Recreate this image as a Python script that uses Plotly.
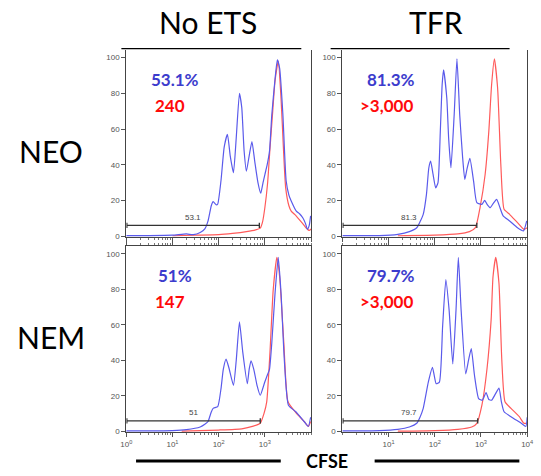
import plotly.graph_objects as go

# ---------------- data (x as log10 CFSE, y as % of max) ----------------
neo_noets_blue_log = [0, 0.5, 1.0, 1.3, 1.45, 1.6, 1.7, 1.77, 1.84, 1.88, 1.95, 1.98, 2.05, 2.12, 2.19, 2.25, 2.32, 2.38, 2.45, 2.5, 2.55, 2.60, 2.66, 2.72, 2.78, 2.85, 2.91, 2.96, 3.0, 3.05, 3.10, 3.15, 3.22, 3.27, 3.32, 3.39, 3.46, 3.52, 3.57, 3.68, 3.75, 3.82, 3.88, 3.92, 3.96, 3.99]
neo_noets_blue_y = [0.3, 0.3, 0.5, 1.2, 0.8, 2.0, 4, 8.5, 17, 19.3, 17.5, 18, 31, 50, 57, 45, 35.5, 55, 80, 72, 48, 36.4, 45, 53, 42, 30, 24, 30, 34.5, 40, 47.6, 68, 88, 98.8, 94, 68, 31, 23, 19.7, 14, 12.5, 10.3, 7, 3.8, 6, 11.3]
neo_noets_red_log = [1.0, 1.5, 2.0, 2.3, 2.6, 2.8, 2.9, 2.95, 3.0, 3.06, 3.11, 3.17, 3.22, 3.29, 3.35, 3.40, 3.45, 3.52, 3.57, 3.65, 3.74, 3.82, 3.89, 3.96, 4.0]
neo_noets_red_y = [0.2, 0.5, 0.8, 1.5, 2.5, 3.5, 4.5, 8, 16, 30, 49, 70, 87, 98, 77, 50, 27, 17, 14, 12, 9.4, 7, 4.7, 3.2, 4]

neo_tfr_blue_log = [0, 0.8, 1.2, 1.45, 1.61, 1.68, 1.75, 1.82, 1.87, 1.91, 1.96, 2.02, 2.07, 2.12, 2.16, 2.19, 2.26, 2.30, 2.35, 2.42, 2.48, 2.54, 2.60, 2.65, 2.70, 2.76, 2.84, 2.91, 3.02, 3.08, 3.14, 3.20, 3.27, 3.34, 3.41, 3.48, 3.62, 3.79, 3.92, 3.99]
neo_tfr_blue_y = [0.3, 0.3, 1.0, 2.5, 4.7, 8, 12.2, 23.4, 38, 42, 35, 27, 30, 58.8, 85, 93.2, 77.4, 55, 38.3, 68, 99.3, 68, 45, 31.7, 38, 43.5, 30.8, 18.7, 17.8, 20, 17.5, 15.9, 18.5, 20.6, 16, 11.3, 8.5, 4.7, 2.9, 8.5]
neo_tfr_red_log = [1.2, 2.0, 2.5, 2.75, 2.88, 2.98, 3.09, 3.17, 3.23, 3.29, 3.36, 3.43, 3.50, 3.62, 3.79, 3.93, 4.0]
neo_tfr_red_y = [0.2, 0.5, 1.2, 2.5, 4.7, 16, 34.5, 58.8, 84.8, 99.3, 83, 40, 15, 12.2, 7.5, 3.8, 4.7]

nem_noets_blue_log = [0, 1.0, 1.3, 1.6, 1.7, 1.77, 1.84, 1.88, 1.98, 2.05, 2.1, 2.16, 2.22, 2.32, 2.38, 2.45, 2.52, 2.62, 2.66, 2.70, 2.76, 2.83, 2.90, 3.0, 3.05, 3.10, 3.15, 3.22, 3.29, 3.35, 3.42, 3.51, 3.67, 3.85, 3.94, 3.99]
nem_noets_blue_y = [0.3, 0.5, 1, 2.5, 4, 5.6, 11, 13, 14, 24, 35, 40.7, 36, 26, 40, 61.7, 45, 26.9, 35, 39.8, 35, 26, 20.4, 28, 31.5, 35, 50, 77.8, 98, 77.8, 40.7, 14.8, 11.1, 5.6, 2.8, 8]
nem_noets_red_log = [1.2, 2.0, 2.5, 2.75, 2.9, 2.98, 3.04, 3.11, 3.18, 3.26, 3.32, 3.41, 3.50, 3.67, 3.85, 3.94, 3.99]
nem_noets_red_y = [0.2, 0.8, 1.5, 3, 4.6, 10, 16.7, 44.4, 79.6, 98, 87, 50, 16.7, 10.6, 5.6, 2.8, 5.6]

nem_tfr_blue_log = [0, 0.8, 1.2, 1.45, 1.61, 1.68, 1.75, 1.86, 1.95, 2.03, 2.10, 2.17, 2.24, 2.31, 2.39, 2.46, 2.51, 2.57, 2.67, 2.73, 2.79, 2.86, 2.95, 3.03, 3.11, 3.17, 3.23, 3.31, 3.39, 3.44, 3.50, 3.65, 3.87, 3.97, 4.0]
nem_tfr_blue_y = [0.3, 0.5, 1.2, 2.5, 4.6, 8, 13, 27.8, 36.1, 26.9, 27.8, 59.3, 85.6, 68.5, 38, 68.5, 98, 68.5, 32.4, 40, 46.7, 31.5, 18.5, 17.6, 21.9, 18, 17.6, 21, 24.4, 17, 11.1, 8.3, 4.6, 2.8, 8]
nem_tfr_red_log = [1.2, 2.0, 2.5, 2.8, 2.91, 3.02, 3.13, 3.22, 3.26, 3.32, 3.39, 3.45, 3.52, 3.65, 3.83, 3.93, 4.0]
nem_tfr_red_y = [0.2, 0.5, 1.2, 2.5, 4.6, 14.8, 35.2, 63, 87, 98, 83.3, 40.7, 16.7, 13, 8.3, 4.6, 4.6]

gate_pct = ["53.1", "81.3", "51", "79.7"]
gate_end_log = [2.88, 2.91, 2.90, 2.93]
blue_labels = ["53.1%", "81.3%", "51%", "79.7%"]
red_labels = ["240", ">3,000", "147", ">3,000"]
col_titles = ["No ETS", "TFR"]
row_titles = ["NEO", "NEM"]
x_tick_vals = [1, 10, 100, 1000, 10000]
x_label_vals_left = [1, 10, 100, 1000]
x_label_text_left = ["10<sup>0</sup>", "10<sup>1</sup>", "10<sup>2</sup>", "10<sup>3</sup>"]
x_label_vals_right = [10, 100, 1000, 10000]
x_label_text_right = ["10<sup>1</sup>", "10<sup>2</sup>", "10<sup>3</sup>", "10<sup>4</sup>"]
y_tick_vals = [0, 20, 40, 60, 80, 100]

panels = [
    (neo_noets_blue_log, neo_noets_blue_y, neo_noets_red_log, neo_noets_red_y),
    (neo_tfr_blue_log, neo_tfr_blue_y, neo_tfr_red_log, neo_tfr_red_y),
    (nem_noets_blue_log, nem_noets_blue_y, nem_noets_red_log, nem_noets_red_y),
    (nem_tfr_blue_log, nem_tfr_blue_y, nem_tfr_red_log, nem_tfr_red_y),
]

W, H = 541, 476
x_domains = [[123 / W, 312 / W], [344 / W, 533 / W]]
y_domains = [[1 - 239 / H, 1 - 50 / H], [1 - 436 / H, 1 - 248 / H]]

BLUE = "rgb(90,90,235)"
RED = "rgb(255,90,90)"
TXT_BLUE = "rgb(60,60,205)"
TXT_RED = "rgb(255,10,10)"
TICK_FONT = dict(family="Liberation Sans, Arial", size=8, color="#555")

minor_vals = [m * 10 ** d for d in range(4) for m in range(2, 10)]

fig = go.Figure()
annotations = []
layout_axes = {}

for i, (bx, by, rx, ry) in enumerate(panels):
    row, col = divmod(i, 2)
    n = i + 1
    xa = "x" if n == 1 else f"x{n}"
    ya = "y" if n == 1 else f"y{n}"
    fig.add_trace(go.Scatter(x=[10 ** v for v in rx], y=ry, mode="lines",
                             line=dict(color=RED, width=1.2, shape="spline", smoothing=0.5),
                             xaxis=xa, yaxis=ya, showlegend=False, hoverinfo="skip"))
    fig.add_trace(go.Scatter(x=[10 ** v for v in bx], y=by, mode="lines",
                             line=dict(color=BLUE, width=1.2, shape="spline", smoothing=0.5),
                             xaxis=xa, yaxis=ya, showlegend=False, hoverinfo="skip"))
    # gate bar
    ge = 10 ** gate_end_log[i]
    fig.add_trace(go.Scatter(x=[1.03, 1.03, 1.03, ge, ge, ge], y=[4.5, 7.5, 6, 6, 7.5, 4.5],
                             mode="lines", line=dict(color="#333", width=1.3),
                             xaxis=xa, yaxis=ya, showlegend=False, hoverinfo="skip"))
    bottom = row == 1
    xkey = "xaxis" if n == 1 else f"xaxis{n}"
    ykey = "yaxis" if n == 1 else f"yaxis{n}"
    if bottom:
        tv = x_label_vals_left if col == 0 else x_label_vals_right
        tt = x_label_text_left if col == 0 else x_label_text_right
        # the major tick without a label is drawn as part of the minor set
        extra = [10000] if col == 0 else [1]
    else:
        tv, tt, extra = x_tick_vals, None, []
    xdict = dict(
        type="log", range=[0, 4], domain=x_domains[col], anchor=ya,
        tickmode="array", tickvals=tv,
        ticks="outside", ticklen=4, tickwidth=1, tickcolor="#555",
        minor=dict(tickvals=minor_vals + extra, ticks="outside", ticklen=2, tickcolor="#777", tickwidth=1),
        showline=True, linecolor="#444", linewidth=1,
        mirror="ticks" if bottom else False,
        showgrid=False, zeroline=False, tickfont=TICK_FONT,
        showticklabels=bottom,
    )
    if tt is not None:
        xdict["ticktext"] = tt
    layout_axes[xkey] = xdict
    layout_axes[ykey] = dict(
        range=[-0.5, 104.5], domain=y_domains[row], anchor=xa,
        tickmode="array", tickvals=y_tick_vals, ticks="outside", ticklen=4,
        tickcolor="#555", showline=True, linecolor="#444", linewidth=1, mirror=True,
        showgrid=False, zeroline=False, tickfont=TICK_FONT,
    )
    annotations.append(dict(x=1.05, y=88, xref=xa, yref=ya, text=f"<b>{blue_labels[i]}</b>",
                            showarrow=False, xanchor="center", yanchor="middle",
                            font=dict(family="Lato", size=17, color=TXT_BLUE)))
    annotations.append(dict(x=0.95, y=73, xref=xa, yref=ya, text=f"<b>{red_labels[i]}</b>",
                            showarrow=False, xanchor="center", yanchor="middle",
                            font=dict(family="Lato", size=17, color=TXT_RED)))
    annotations.append(dict(x=1.45, y=10.5, xref=xa, yref=ya, text=gate_pct[i],
                            showarrow=False, xanchor="center", yanchor="middle",
                            font=dict(family="Liberation Sans, Arial", size=8, color="#444")))

# column and row titles
for j, t in enumerate(col_titles):
    cx = [207, 440][j] / W
    annotations.append(dict(x=cx, y=1 - 22 / H, xref="paper", yref="paper", text=t, showarrow=False,
                            xanchor="center", yanchor="middle",
                            font=dict(family="Lato", size=30, color="black")))
for j, t in enumerate(row_titles):
    cy = [152, 340][j]
    annotations.append(dict(x=46 / W, y=1 - cy / H, xref="paper", yref="paper", text=t, showarrow=False,
                            xanchor="center", yanchor="middle",
                            font=dict(family="Lato", size=30, color="black")))
annotations.append(dict(x=328 / W, y=1 - 465 / H, xref="paper", yref="paper", text="<b>CFSE</b>",
                        showarrow=False, xanchor="center", yanchor="middle",
                        font=dict(family="Lato", size=18, color="black")))

shapes = []
for (x0, x1, yy, w) in [(118, 302, 49, 1.3), (332, 515, 49, 1.3), (133, 281, 465, 3), (377, 525, 465, 3)]:
    shapes.append(dict(type="line", xref="paper", yref="paper", x0=x0 / W, x1=x1 / W,
                       y0=1 - yy / H, y1=1 - yy / H, line=dict(color="black", width=w)))

fig.update_layout(width=W, height=H, margin=dict(l=0, r=0, t=0, b=0),
                  paper_bgcolor="white", plot_bgcolor="white",
                  annotations=annotations, shapes=shapes, **layout_axes)

fig.write_html("out.html")
